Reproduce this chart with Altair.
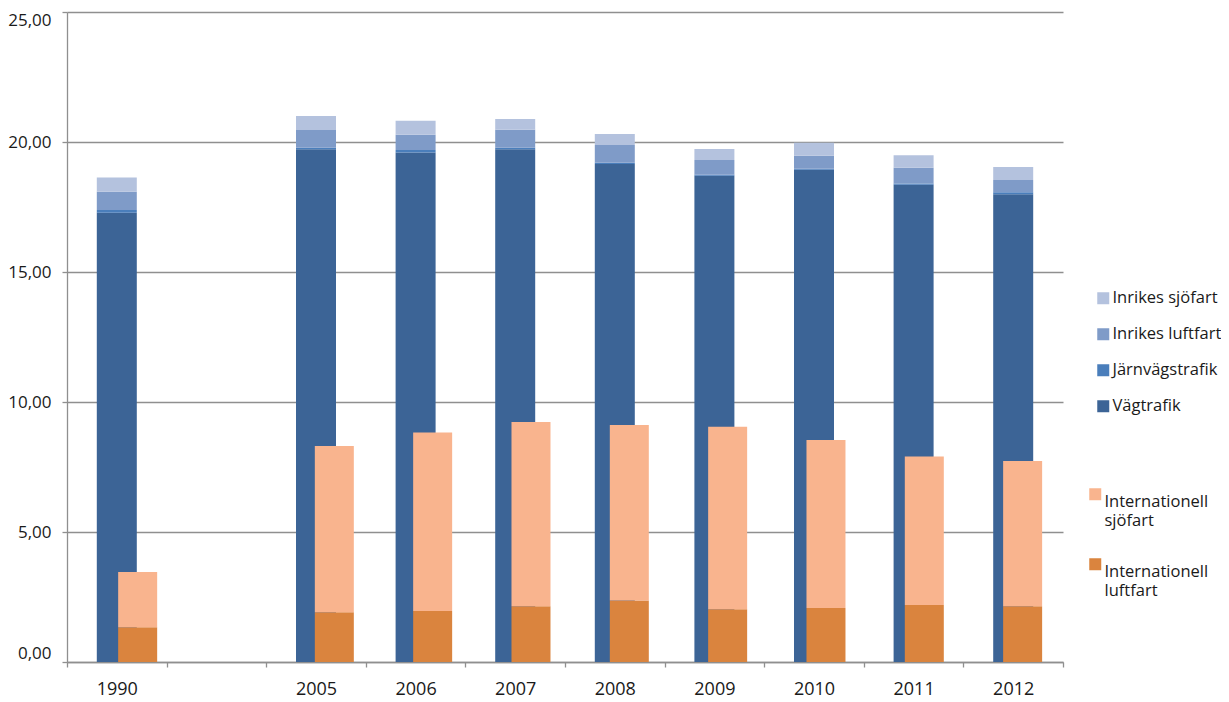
import altair as alt
import pandas as pd

# Categories (the second slot is an empty gap in the original chart)
years = ["1990", " ", "2005", "2006", "2007", "2008", "2009", "2010", "2011", "2012"]
data_years = ["1990", "2005", "2006", "2007", "2008", "2009", "2010", "2011", "2012"]

# Domestic transport (stacked, bottom to top)
vagtrafik = [17.28, 19.72, 19.60, 19.72, 19.15, 18.70, 18.93, 18.36, 17.99]
jarnvag = [0.10, 0.06, 0.09, 0.06, 0.05, 0.04, 0.04, 0.04, 0.08]
inrikes_luftfart = [0.71, 0.68, 0.59, 0.69, 0.68, 0.57, 0.50, 0.61, 0.47]
inrikes_sjofart = [0.54, 0.54, 0.54, 0.41, 0.43, 0.42, 0.50, 0.48, 0.50]

# International bunkering (stacked, bottom to top)
int_luftfart = [1.34, 1.91, 1.96, 2.14, 2.37, 2.03, 2.08, 2.19, 2.14]
int_sjofart = [2.12, 6.40, 6.87, 7.09, 6.75, 7.02, 6.46, 5.71, 5.59]

dom_series = [
    ("Vägtrafik", vagtrafik),
    ("Järnvägstrafik", jarnvag),
    ("Inrikes luftfart", inrikes_luftfart),
    ("Inrikes sjöfart", inrikes_sjofart),
]
int_series = [
    ("Internationell luftfart", int_luftfart),
    ("Internationell sjöfart", int_sjofart),
]

dom_rows = []
for k, (name, vals) in enumerate(dom_series):
    for y, v in zip(data_years, vals):
        dom_rows.append({"year": y, "serie": name, "value": v, "k": k})
int_rows = []
for k, (name, vals) in enumerate(int_series):
    for y, v in zip(data_years, vals):
        int_rows.append({"year": y, "serie": name, "value": v, "k": k})

df_dom = pd.DataFrame(dom_rows)
df_int = pd.DataFrame(int_rows)

dom_legend = ["Inrikes sjöfart", "Inrikes luftfart", "Järnvägstrafik", "Vägtrafik"]
dom_colors = ["#B4C2DE", "#7F9BC8", "#4A7EBB", "#3C6496"]
int_legend = ["Internationell sjöfart", "Internationell luftfart"]
int_colors = ["#F9B48E", "#DA843E"]

FONT = "Open Sans"
GRAY = "#8f8f8f"
TEXT = "#1a1a1a"

y_scale = alt.Scale(domain=[0, 25], nice=False, zero=True)

blue = alt.Chart(df_dom).mark_bar(width=40).encode(
    x=alt.X(
        "year:N",
        sort=years,
        scale=alt.Scale(domain=years, paddingInner=0, paddingOuter=0),
        axis=alt.Axis(
            title=None,
            labelAngle=0,
            tickBand="extent",
            domainColor=GRAY,
            domainWidth=1.3,
            tickColor=GRAY,
            tickSize=5,
            tickWidth=1.3,
            labelPadding=13,
            labelFont=FONT,
            labelFontSize=18,
            labelColor=TEXT,
        ),
    ),
    y=alt.Y(
        "value:Q",
        stack="zero",
        scale=y_scale,
        axis=alt.Axis(
            values=[0, 5, 10, 15, 20, 25],
            labelExpr="replace(format(datum.value, '.2f'), '.', ',')",
            title=None,
            grid=True,
            gridColor=GRAY,
            gridWidth=1.3,
            domainColor=GRAY,
            domainWidth=1.3,
            tickColor=GRAY,
            tickSize=5,
            tickWidth=1.3,
            labelPadding=11,
            labelFont=FONT,
            labelFontSize=17,
            labelColor=TEXT,
            labelFlush=True,
            labelFlushOffset=0,
        ),
    ),
    color=alt.Color(
        "serie:N",
        scale=alt.Scale(domain=dom_legend, range=dom_colors),
        legend=alt.Legend(
            title=None,
            orient="none",
            legendX=1028,
            legendY=278,
            symbolType="square",
            symbolSize=144,
            symbolStrokeWidth=0,
            labelFont=FONT,
            labelFontSize=16.5,
            labelColor=TEXT,
            rowPadding=19,
            labelOffset=1,
            padding=0,
        ),
    ),
    order=alt.Order("k:Q"),
)

orange = alt.Chart(df_int).mark_bar(width=39).encode(
    x=alt.X(
        "year:N",
        sort=years,
        scale=alt.Scale(domain=years, paddingInner=0, paddingOuter=0, range=[21.5, 1004.8]),
        axis=None,
    ),
    y=alt.Y("value:Q", stack="zero", scale=y_scale),
    color=alt.Color(
        "serie:N",
        scale=alt.Scale(domain=int_legend, range=int_colors),
        legend=alt.Legend(
            title=None,
            orient="none",
            legendX=1020,
            legendY=474,
            symbolType="square",
            symbolSize=144,
            symbolStrokeWidth=0,
            labelFont=FONT,
            labelFontSize=16.5,
            labelColor=TEXT,
            labelExpr="split(datum.label, ' ')",
            labelBaseline="top",
            rowPadding=26,
            labelOffset=1,
            padding=0,
        ),
    ),
    order=alt.Order("k:Q"),
)

chart = (
    alt.layer(blue, orange)
    .resolve_scale(x="independent", color="independent")
    .properties(
        width=996,
        height=650,
        padding={"left": 59, "top": 4, "right": 158, "bottom": 36},
        autosize=alt.AutoSizeParams(type="none"),
    )
    .configure_view(stroke=None)
)

chart.save("out.html", embed_options={"renderer": "svg", "actions": False})
